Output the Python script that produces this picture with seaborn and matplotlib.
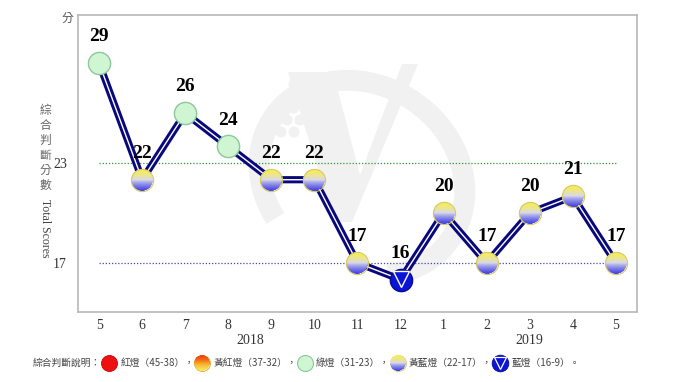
import numpy as np
import matplotlib
matplotlib.use("Agg")
import matplotlib.pyplot as plt
import seaborn as sns
from matplotlib.offsetbox import OffsetImage, AnnotationBbox
from matplotlib.patches import Arc, Polygon, Circle

# Data
months = ["5", "6", "7", "8", "9", "10", "11", "12", "1", "2", "3", "4", "5"]
scores = [29, 22, 26, 24, 22, 22, 17, 16, 20, 17, 20, 21, 17]
years = ["2018", "2019"]
year_pos = [3.5, 10]
green_line = 23
blue_line = 17

legend_title = "綜合判斷說明："
legend_labels = ["紅燈（45-38），", "黃紅燈（37-32），", "綠燈（31-23），", "黃藍燈（22-17），", "藍燈（16-9）。"]

sns.set_style("white")
plt.rcParams["font.family"] = ["Liberation Serif", "Noto Sans CJK TC"]
cjk = ["Noto Sans CJK TC", "DejaVu Sans"]

navy = "#08087c"


def gradient_disc(top, mid, bottom, size=60):
    # round marker image with a vertical colour gradient
    yy, xx = np.mgrid[0:size, 0:size] + 0.5
    r = size / 2
    d = np.sqrt((xx - r) ** 2 + (yy - r) ** 2)
    t = yy / size
    top, mid, bottom = [np.array(matplotlib.colors.to_rgb(c)) for c in (top, mid, bottom)]
    img = np.zeros((size, size, 4))
    for k in range(3):
        img[..., k] = np.where(
            t < 0.5,
            top[k] + (mid[k] - top[k]) * (t / 0.5) ** 1.5,
            mid[k] + (bottom[k] - mid[k]) * ((t - 0.5) / 0.5) ** 0.8,
        )
    img[..., 3] = np.clip(r - d, 0, 1)
    return img


yb_img = gradient_disc("#f7ee55", "#d8d8ea", "#3b3be6")
yr_img = gradient_disc("#f04010", "#f7a020", "#f8f060")

fig = plt.figure(figsize=(6.8, 3.82), dpi=100)

# faint watermark logo behind the chart
wm = fig.add_axes([0, 0, 1, 1])
wm.set_xlim(0, 680)
wm.set_ylim(382, 0)
wm.axis("off")
wm_col = "#f1f1f1"
wm.add_patch(Arc((362, 178), 215, 185, angle=35, theta1=120, theta2=400, lw=15, color=wm_col))
wm.add_patch(Polygon([(288, 72), (333, 72), (360, 175), (402, 64), (418, 64), (352, 222), (334, 222)],
                     closed=True, color=wm_col, lw=0))
for cx, cy in [(268, 132), (281, 132), (294, 132), (274, 120), (287, 120), (300, 120),
               (281, 108), (294, 108), (287, 96), (300, 96), (294, 84)]:
    wm.add_patch(Circle((cx, cy), 5.5, color=wm_col, lw=0))

ax = fig.add_axes([78 / 680, 70 / 382, 559 / 680, 297 / 382])
ax.set_facecolor("none")

x = np.arange(len(scores))

# reference lines
ax.hlines(green_line, 0, len(scores) - 1, colors="#2e9a2e", linestyles=(0, (1, 1.5)), linewidth=0.9, zorder=1)
ax.hlines(blue_line, 0, len(scores) - 1, colors="#4848a8", linestyles=(0, (1, 1.5)), linewidth=0.9, zorder=1)

# double line
sns.lineplot(x=x, y=scores, color=navy, linewidth=5.2, ax=ax, zorder=2)
sns.lineplot(x=x, y=scores, color="white", linewidth=1.0, ax=ax, zorder=3)

# markers
for xi, s in zip(x, scores):
    if s >= 23:
        ax.plot(xi, s, "o", ms=16, mfc="#cff5d3", mec="#8cc898", mew=1, zorder=5)
    elif s >= 17:
        ab = AnnotationBbox(OffsetImage(yb_img, zoom=22 / 60, dpi_cor=False), (xi, s),
                            frameon=False, pad=0, zorder=5)
        ax.add_artist(ab)
        ax.plot(xi, s, "o", ms=16, mfc="none", mec="#d8c860", mew=0.8, zorder=6)
    else:
        ax.plot(xi, s, "o", ms=16, mfc="#0a14d6", mec="#0a0a90", mew=1, zorder=5)
        ax.plot(xi, s + 0.05, "v", ms=11, mfc="none", mec="white", mew=1, zorder=6)
    ax.annotate(str(s), (xi, s), xytext=(0, 19), textcoords="offset points",
                ha="center", va="center", fontsize=14, fontweight="bold",
                family="Liberation Serif", color="black", zorder=7)

ax.set_xlim(-0.49, len(scores) - 1 + 0.49)
ax.set_ylim(14.05, 31.9)
ax.set_xticks(x)
ax.set_xticklabels(months)
ax.set_yticks([blue_line, green_line])
ax.set_yticklabels([str(blue_line), str(green_line)])
ax.tick_params(axis="both", length=0, labelsize=10, labelcolor="#333333")
ax.tick_params(axis="x", pad=5)
ax.tick_params(axis="y", pad=8)
for sp in ax.spines.values():
    sp.set_color("#b8b8b8")
    sp.set_linewidth(1.2)

for yr, p in zip(years, year_pos):
    ax.annotate(yr, (p, 14.05), xytext=(0, -20.5), textcoords="offset points",
                ha="center", va="center", fontsize=10, color="#333333")

# axis titles
fig.text(67 / 680, 1 - 18 / 382, "分", family=cjk, fontsize=8.5, color="#555555", ha="center", va="center")
fig.text(45 / 680, 1 - 148 / 382, "綜\n合\n判\n斷\n分\n數", family=cjk, fontsize=8.5, color="#666666",
         ha="center", va="center", linespacing=1.2)
fig.text(45 / 680, 1 - 228 / 382, "Total Scores", fontsize=8.5, color="#444444",
         ha="center", va="center", rotation=270)

# legend strip, laid out left to right
lg = fig.add_axes([0, 0, 1, 1])
lg.set_xlim(0, 680)
lg.set_ylim(382, 0)
lg.axis("off")
ly = 363
fs = 7
renderer = fig.canvas.get_renderer()


def put_text(x0, s):
    t = lg.text(x0, ly, s, family=cjk, fontsize=fs, color="#444444", va="center")
    bb = t.get_window_extent(renderer)
    return x0 + bb.width


def put_marker(x0, kind):
    cx = x0 + 8
    if kind == 0:
        lg.plot(cx, ly, "o", ms=11.5, mfc="#ee1111", mec="#cc0000", mew=0.6)
    elif kind == 1:
        lg.add_artist(AnnotationBbox(OffsetImage(yr_img, zoom=16 / 60, dpi_cor=False), (cx, ly), frameon=False, pad=0))
        lg.plot(cx, ly, "o", ms=11.5, mfc="none", mec="#e0a030", mew=0.6)
    elif kind == 2:
        lg.plot(cx, ly, "o", ms=11.5, mfc="#cff5d3", mec="#8cc898", mew=0.8)
    elif kind == 3:
        lg.add_artist(AnnotationBbox(OffsetImage(yb_img, zoom=16 / 60, dpi_cor=False), (cx, ly), frameon=False, pad=0))
        lg.plot(cx, ly, "o", ms=11.5, mfc="none", mec="#d8c860", mew=0.6)
    else:
        lg.plot(cx, ly, "o", ms=12, mfc="#0a14d6", mec="#0a0a90", mew=0.6)
        lg.plot(cx, ly - 0.5, "v", ms=8, mfc="none", mec="white", mew=0.9)
    return x0 + 19


cur = put_text(33, legend_title)
for k, lab in enumerate(legend_labels):
    cur = put_marker(cur, k)
    cur = put_text(cur, lab)

fig.savefig("out.png", dpi=100)
